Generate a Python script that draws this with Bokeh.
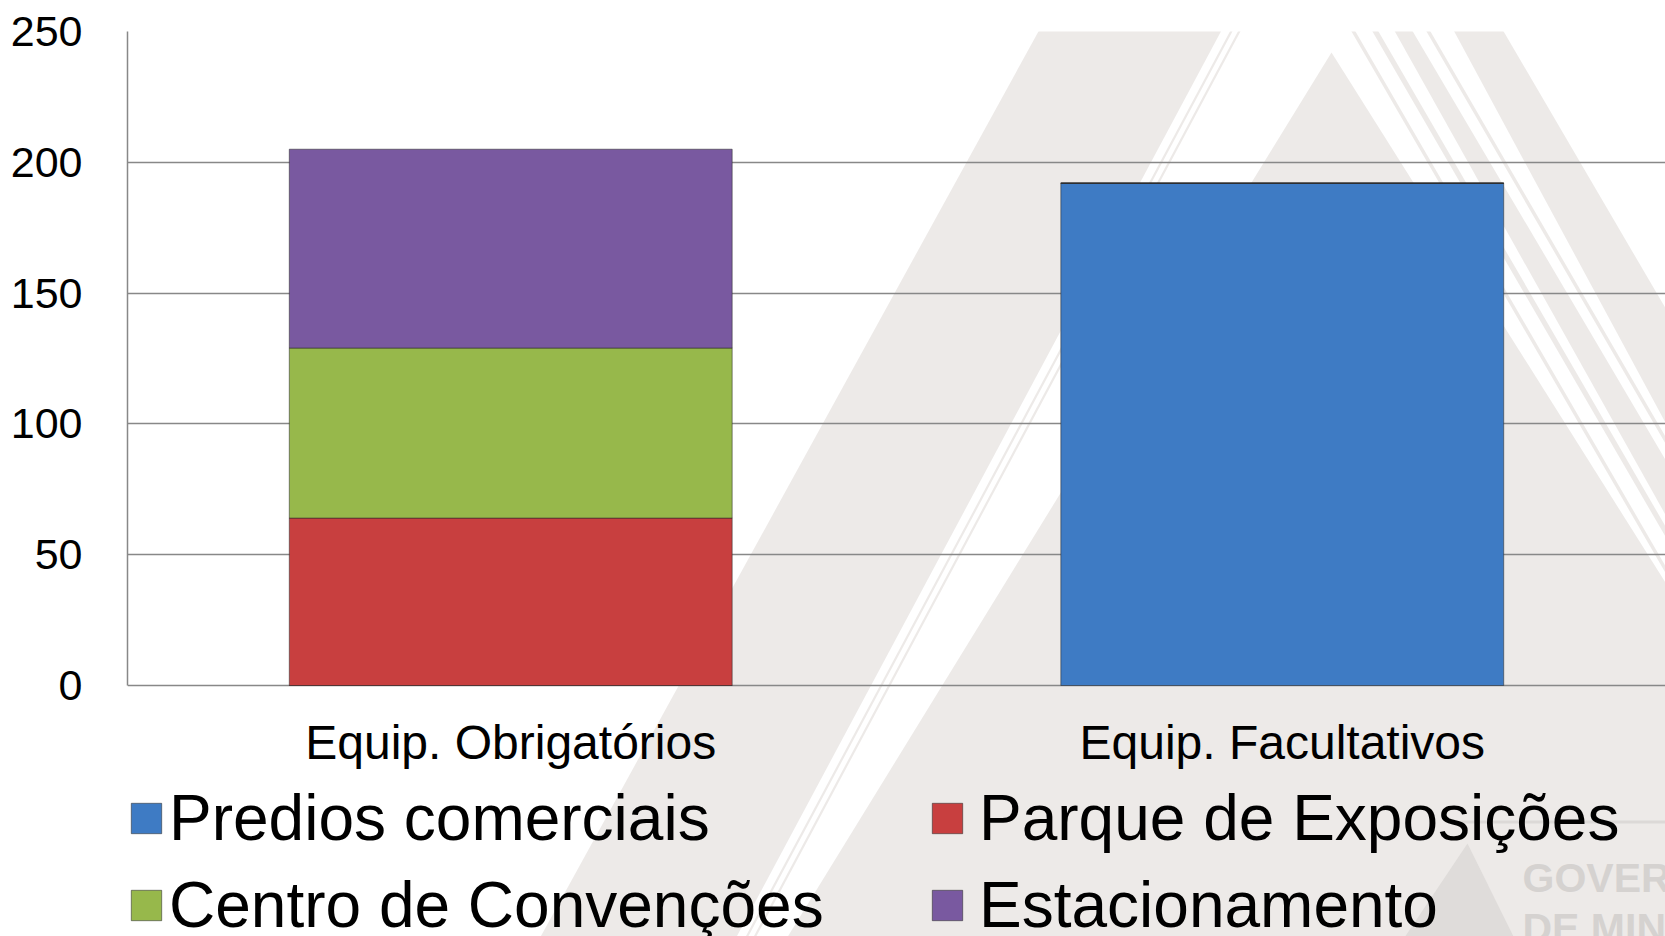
from bokeh.plotting import figure
from bokeh.models import (FactorRange, Legend, LegendItem, PolyAnnotation, Label,
                          ColumnDataSource)
from bokeh.embed import file_html
from bokeh.resources import INLINE
from bokeh.core.properties import value

# ---------------- data ----------------
categories = ["Equip. Obrigatórios", "Equip. Facultativos"]
series_names = ["Predios comerciais", "Parque de Exposições",
                "Centro de Convenções", "Estacionamento"]
predios = [0, 192]
parque = [64, 0]
centro = [65, 0]
estacionamento = [76, 0]
y_ticks = [0, 50, 100, 150, 200, 250]

# ---------------- style / layout ----------------
colors = ["#3E7BC4", "#C83F3F", "#97B84B", "#7959A0"]
FONT = "Liberation Sans"
GREY_BG = "#EDEAE8"
GRID = "#888888"
W, H = 1665, 936
FRAME_LEFT, FRAME_TOP, ZERO_Y = 127, 31, 685   # canvas pixels
px_per_unit = (ZERO_Y - FRAME_TOP) / 250.0
y_start = -(H - ZERO_Y) / px_per_unit

source = ColumnDataSource(dict(cat=categories, predios=predios, parque=parque,
                               centro=centro, estacionamento=estacionamento))

p = figure(x_range=FactorRange(*categories, range_padding=-0.0033),
           y_range=(y_start, 250),
           width=W, height=H, output_backend="svg", toolbar_location=None,
           min_border_left=FRAME_LEFT, min_border_right=0, min_border_top=FRAME_TOP,
           min_border_bottom=0)
p.background_fill_color = "white"
p.border_fill_color = "white"
p.outline_line_color = None


# ------------- background watermark (canvas coords) -------------
def poly(pts, color=GREY_BG):
    a = PolyAnnotation(xs=[x for x, y in pts], ys=[y for x, y in pts],
                       xs_units="canvas", ys_units="canvas",
                       fill_color=color, fill_alpha=1.0, line_color=None,
                       level="image")
    p.add_layout(a)


def band(xl0, xr0, sl, sr, y0=0, y1=950):
    return [(xl0 + sl * y0, y0), (xr0 + sr * y0, y0),
            (xr0 + sr * y1, y1), (xl0 + sl * y1, y1)]


poly(band(1055, 1237, -0.55, -0.535))
poly(band(1246, 1248.5, -0.535, -0.535))
poly(band(1254, 1256.5, -0.535, -0.535))
poly([(1331, 52), (1331 + 0.63 * 900, 952), (1331 - 0.615 * 900, 952)])
poly(band(1437, 1485, 0.54, 0.585))
poly(band(1333, 1337, 0.58, 0.58))
poly(band(1354, 1360, 0.58, 0.58))
poly(band(1377, 1394, 0.56, 0.59))
poly(band(1408, 1412, 0.58, 0.58))
# faint logo
poly(band(1460, 1680, 0, 0, 820, 823), "#DCD9D7")
poly([(1467, 843), (1515, 940), (1402, 940)], "#DFDCDA")
for txt, yb in (("GOVERNO", 877), ("DE MINAS", 927)):
    p.add_layout(Label(x=1522, y=yb, x_units="canvas", y_units="canvas",
                       text=txt, text_font=FONT,
                       text_font_style="bold", text_font_size="41px",
                       text_color="#D5D2D0", text_baseline="alphabetic",
                       level="image"))

# ---------------- bars ----------------
stackers = ["predios", "parque", "centro", "estacionamento"]
renderers = p.vbar_stack(stackers, x="cat", width=0.574, source=source,
                         fill_color=colors, line_color="#2b2b2b",
                         line_alpha=0.55, line_width=1)

# ---------------- axes / grid ----------------
p.yaxis.ticker = y_ticks
p.yaxis.bounds = (0, 250)
p.yaxis.major_label_text_font = FONT
p.yaxis.major_label_text_font_size = "43px"
p.yaxis.major_label_text_color = "black"
p.yaxis.major_tick_line_color = None
p.yaxis.minor_tick_line_color = None
p.yaxis.axis_line_color = GRID
p.yaxis.axis_line_width = 1.5
p.yaxis.major_label_standoff = 39

p.xaxis.visible = False
p.xgrid.visible = False
p.ygrid.grid_line_color = GRID
p.ygrid.grid_line_width = 1.5

# category labels under the zero line
p.text(x=categories, y=[0] * len(categories), text=categories,
       text_font=value(FONT), text_font_size="48px", text_color="black",
       text_align="center", text_baseline="middle", y_offset=57)

# ---------------- legend ----------------
by_name = dict(zip(series_names, renderers))


def make_legend(names, loc, standoff):
    leg = Legend(items=[LegendItem(label=n, renderers=[by_name[n]]) for n in names],
                 location=loc, orientation="vertical",
                 label_text_font=FONT, label_text_font_size="64px",
                 label_text_color="black",
                 glyph_width=38, glyph_height=38, label_standoff=standoff,
                 spacing=13, padding=0, margin=0, label_height=74,
                 border_line_color=None, background_fill_alpha=0)
    p.add_layout(leg)


make_legend(["Predios comerciais", "Centro de Convenções"], (0, -6), 4)
make_legend(["Parque de Exposições", "Estacionamento"], (801, -6), 13)

open("out.html", "w").write(file_html(p, INLINE))
